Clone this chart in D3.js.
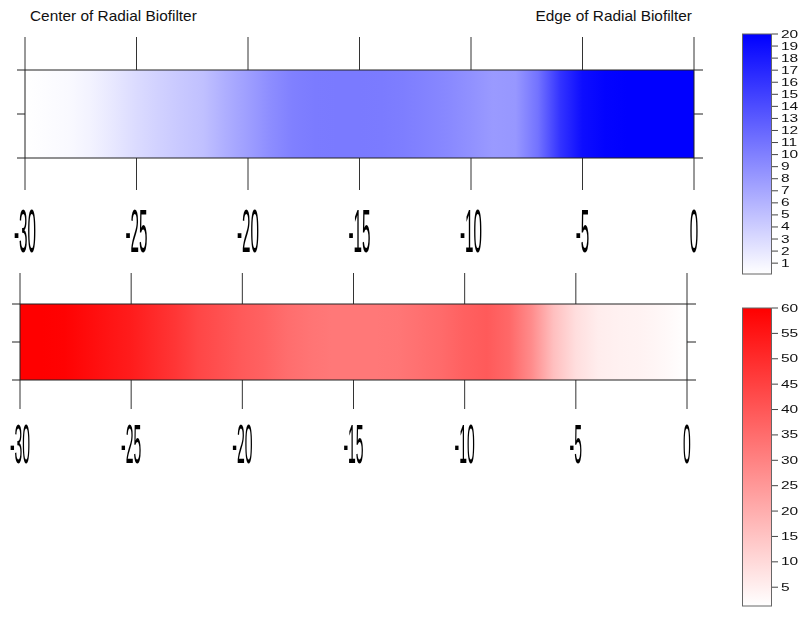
<!DOCTYPE html>
<html>
<head>
<meta charset="utf-8">
<script src="https://cdn.jsdelivr.net/npm/d3@7"></script>
<style>
  body { margin: 0; background: #fff; }
  svg { display: block; font-family: "Liberation Sans", Arial, sans-serif; }
</style>
</head>
<body>
<div id="chart"></div>
<script>
// distance from the filter edge (cm) and the two measured profiles
const distances = [-30, -29, -28, -27, -26, -25, -24, -23, -22, -21, -20, -19, -18, -17, -16,
  -15, -14, -13, -12, -11, -10, -9, -8, -7, -6, -5, -4, -3, -2, -1, 0];
const blueValues = [0.1, 0.3, 0.6, 1.1, 2.0, 2.9, 3.7, 4.4, 5.0, 6.4, 7.7, 9.0, 10.0, 10.4, 10.5,
  10.5, 10.4, 10.2, 9.8, 9.3, 8.7, 8.0, 8.2, 11.0, 16.0, 19.0, 19.8, 20, 20, 20, 20];
const redValues = [60, 60, 59.5, 57.5, 55.5, 53.5, 50.5, 47.5, 44, 41.5, 39.3, 37.5, 35, 33.2, 32.4,
  32.4, 32.4, 32.8, 34.2, 35.6, 37.9, 39.3, 36, 28, 16, 9, 5.5, 4.5, 4.0, 2.8, 1.3];
const xTicks = [-30, -25, -20, -15, -10, -5, 0];
const blueBarTicks = d3.range(1, 21);
const redBarTicks = d3.range(5, 61, 5);

const width = 805, height = 618;
const INK = '#333';

const svg = d3.select('#chart').append('svg')
  .attr('width', width)
  .attr('height', height)
  .attr('viewBox', [0, 0, width, height]);

const defs = svg.append('defs');

// rasterise stretched text off-screen so it gets plain grey antialiasing
defs.append('filter')
  .attr('id', 'flat')
  .attr('x', '-20%').attr('y', '-20%')
  .attr('width', '140%').attr('height', '140%')
  .append('feOffset')
    .attr('dx', 0).attr('dy', 0);

svg.append('g')
  .attr('transform', 'translate(30,20.5) scale(1.1,1)')
  .append('text')
    .attr('font-size', 14)
    .attr('fill', '#111')
    .text('Center of Radial Biofilter');

svg.append('g')
  .attr('transform', 'translate(692,20.5) scale(1.1,1)')
  .append('text')
    .attr('font-size', 14)
    .attr('text-anchor', 'end')
    .attr('fill', '#111')
    .text('Edge of Radial Biofilter');

const drawStrip = (cfg) => {
  const x = d3.scaleLinear().domain([-30, 0]).range([cfg.x0, cfg.x1]);
  const color = d3.scaleLinear().domain(d3.extent(cfg.values)).range(['#ffffff', cfg.hue]);
  const g = svg.append('g');

  const grad = defs.append('linearGradient')
    .attr('id', cfg.id)
    .attr('gradientUnits', 'userSpaceOnUse')
    .attr('x1', cfg.x0).attr('x2', cfg.x1)
    .attr('y1', 0).attr('y2', 0);
  grad.selectAll('stop')
    .data(distances)
    .join('stop')
      .attr('offset', d => (x(d) - cfg.x0) / (cfg.x1 - cfg.x0))
      .attr('stop-color', (d, i) => color(cfg.values[i]));

  g.append('rect')
    .attr('x', cfg.x0)
    .attr('y', cfg.top)
    .attr('width', cfg.x1 - cfg.x0)
    .attr('height', cfg.bottom - cfg.top)
    .attr('fill', `url(#${cfg.id})`);

  // long x ticks above and below the strip
  g.selectAll('line.tt')
    .data(xTicks)
    .join('line')
      .attr('x1', d => x(d)).attr('x2', d => x(d))
      .attr('y1', cfg.tickTop).attr('y2', cfg.top)
      .attr('stroke', INK);
  g.selectAll('line.tb')
    .data(xTicks)
    .join('line')
      .attr('x1', d => x(d)).attr('x2', d => x(d))
      .attr('y1', cfg.bottom).attr('y2', cfg.tickBot)
      .attr('stroke', INK);

  // frame edges
  [cfg.x0, cfg.x1].forEach(px => {
    g.append('line')
      .attr('x1', px).attr('x2', px)
      .attr('y1', cfg.top).attr('y2', cfg.bottom)
      .attr('stroke', '#222');
  });

  // y ticks on both sides, unlabelled; top and bottom run along the strip
  const y = d3.scaleLinear().domain([0, 1]).range([cfg.bottom, cfg.top]);
  [0, 0.5, 1].forEach(v => {
    g.append('line')
      .attr('x1', cfg.x0 - 8).attr('x2', v === 0.5 ? cfg.x0 : cfg.x1)
      .attr('y1', y(v)).attr('y2', y(v))
      .attr('stroke', '#222');
    g.append('line')
      .attr('x1', cfg.x1).attr('x2', cfg.x1 + 9)
      .attr('y1', y(v)).attr('y2', y(v))
      .attr('stroke', '#222');
  });

  // tall, squeezed tick labels
  g.append('g')
    .attr('filter', 'url(#flat)')
    .selectAll('g')
    .data(xTicks)
    .join('g')
      .attr('transform', d => `translate(${x(d)},${cfg.labelY}) scale(0.25,1)`)
    .append('text')
      .attr('text-anchor', 'middle')
      .attr('font-size', cfg.labelSize)
      .attr('fill', '#000')
      .text(d => d);
};

const drawColorbar = (cfg) => {
  const ext = d3.extent(cfg.values);
  const y = d3.scaleLinear().domain(ext).range([cfg.bottom, cfg.top]);
  const color = d3.scaleLinear().domain(ext).range(['#ffffff', cfg.hue]);

  const grad = defs.append('linearGradient')
    .attr('id', cfg.id)
    .attr('x1', 0).attr('x2', 0)
    .attr('y1', 1).attr('y2', 0);
  grad.selectAll('stop')
    .data([0, 1])
    .join('stop')
      .attr('offset', d => d)
      .attr('stop-color', d => color(ext[0] + d * (ext[1] - ext[0])));

  svg.append('rect')
    .attr('x', 742.5).attr('y', cfg.top)
    .attr('width', 29).attr('height', cfg.bottom - cfg.top)
    .attr('fill', `url(#${cfg.id})`)
    .attr('stroke', '#666');

  const g = svg.append('g');
  g.selectAll('line')
    .data(cfg.ticks)
    .join('line')
      .attr('x1', 772).attr('x2', 778)
      .attr('y1', d => y(d)).attr('y2', d => y(d))
      .attr('stroke', '#444');
  g.append('g')
    .attr('filter', 'url(#flat)')
    .selectAll('g')
    .data(cfg.ticks)
    .join('g')
      .attr('transform', d => `translate(781,${y(d) + 3.5}) scale(1.55,1)`)
    .append('text')
      .attr('font-size', 10)
      .attr('fill', '#111')
      .text(d => d);
};

drawStrip({
  id: 'blueStrip', values: blueValues, hue: '#0000ff',
  x0: 25, x1: 694, top: 70, bottom: 158,
  tickTop: 37, tickBot: 190, labelY: 252, labelSize: 61
});

drawStrip({
  id: 'redStrip', values: redValues, hue: '#ff0000',
  x0: 20, x1: 687, top: 304, bottom: 380,
  tickTop: 273, tickBot: 409, labelY: 463, labelSize: 56
});

drawColorbar({ id: 'blueBar', values: blueValues, hue: '#0000ff', top: 34, bottom: 274, ticks: blueBarTicks });
drawColorbar({ id: 'redBar', values: redValues, hue: '#ff0000', top: 308, bottom: 606, ticks: redBarTicks });
</script>
</body>
</html>
